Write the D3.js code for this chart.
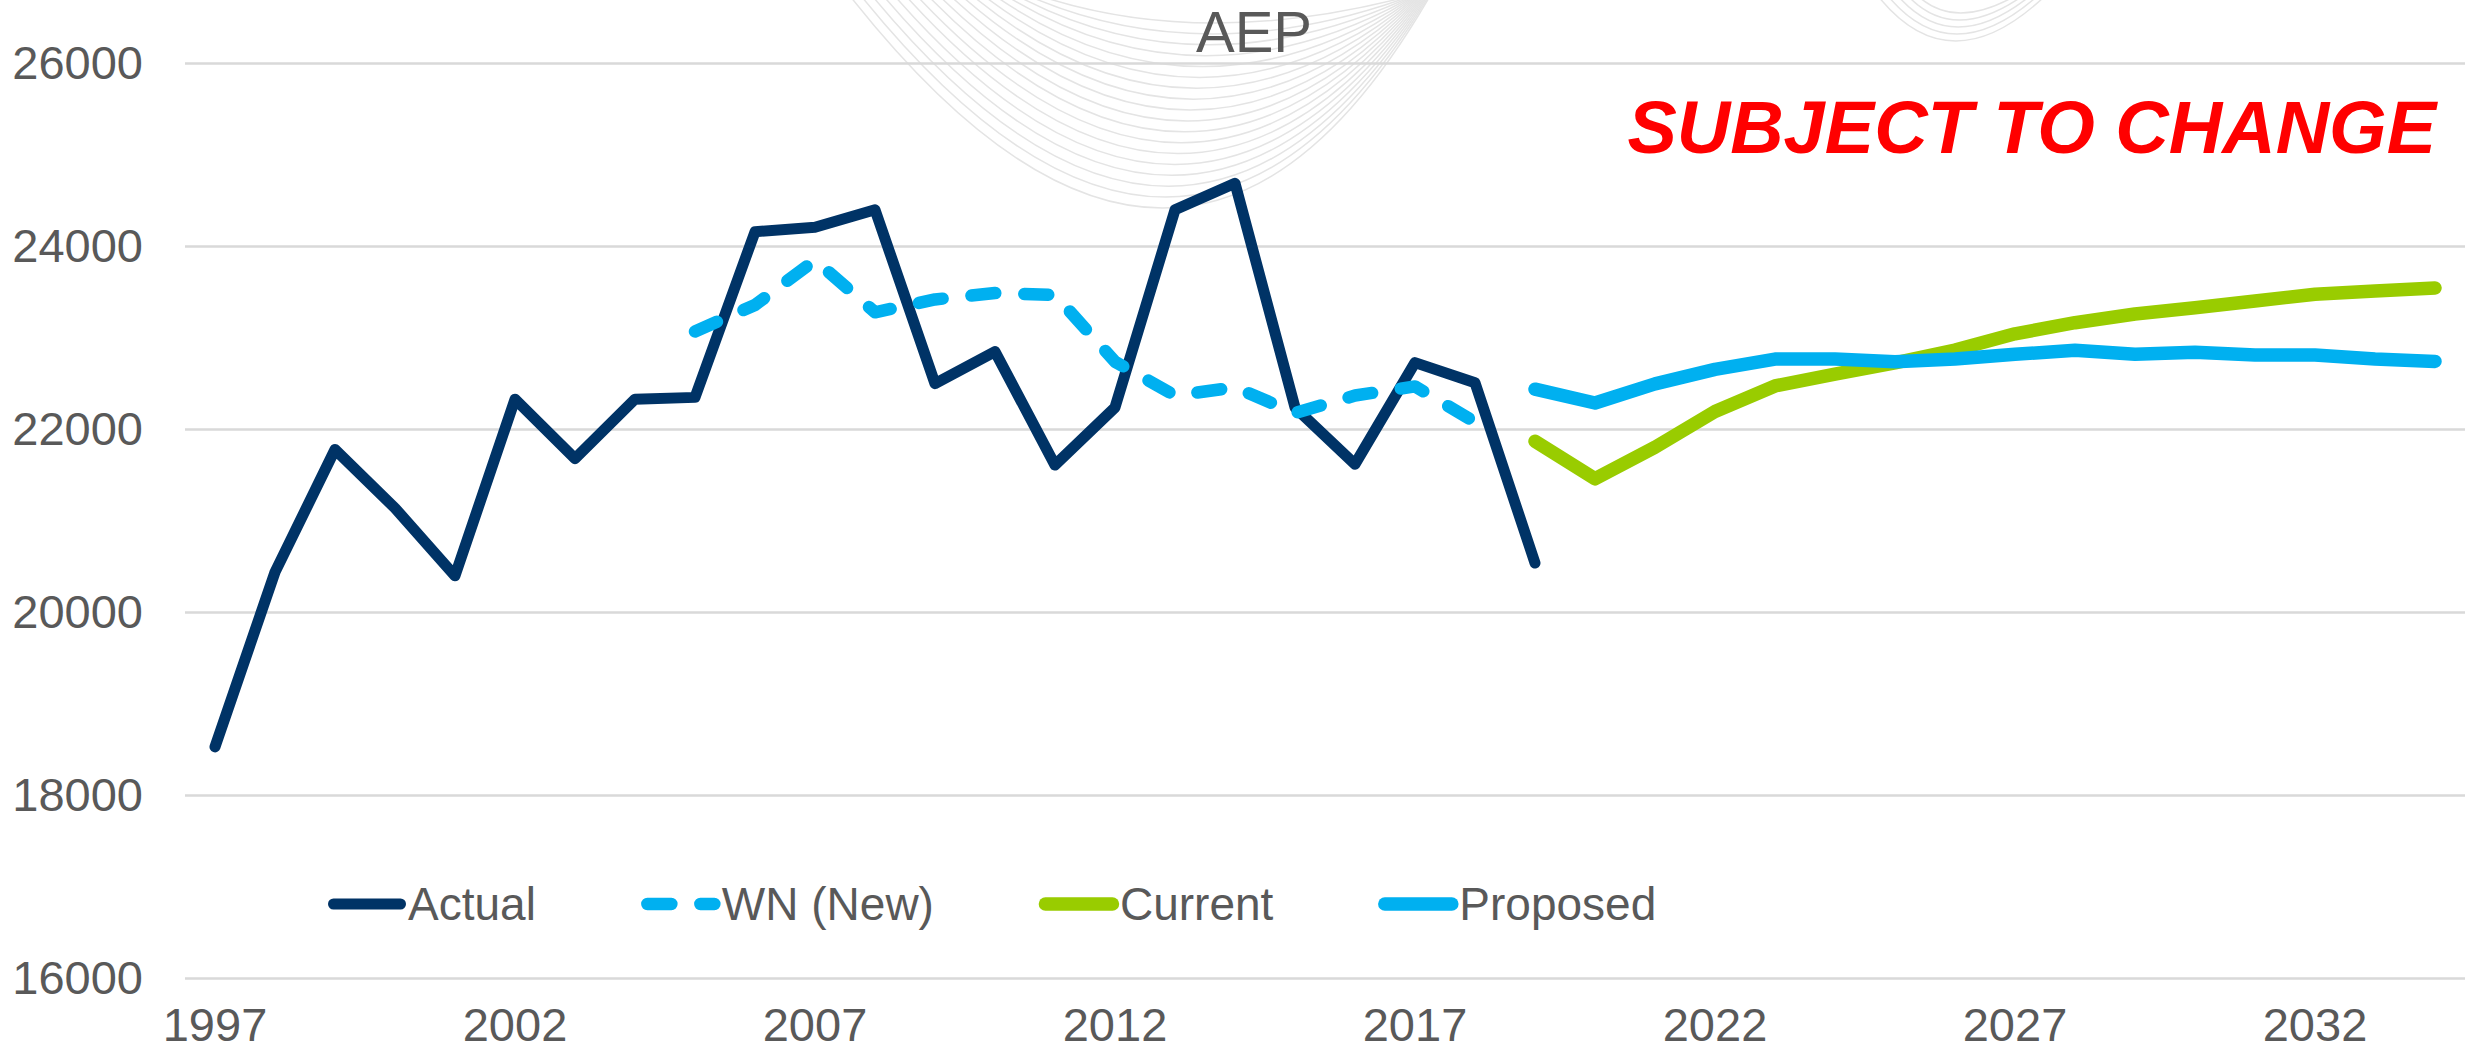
<!DOCTYPE html>
<html>
<head>
<meta charset="utf-8">
<script src="https://cdn.jsdelivr.net/npm/d3@7"></script>
<style>
  html, body { margin: 0; padding: 0; background: #fff; }
  svg text { font-family: "Liberation Sans", Arial, sans-serif; }
</style>
</head>
<body>
<div id="chart"></div>
<script>
// categories
var years = d3.range(1997, 2035);
var xTickLabels = [1997, 2002, 2007, 2012, 2017, 2022, 2027, 2032];
var yTicks = [16000, 18000, 20000, 22000, 24000, 26000];

// series values (null = no value that year)
var actual = [18530, 20440, 21780, 21140, 20400, 22330, 21680, 22330, 22350, 24160,
              24210, 24400, 22500, 22850, 21610, 22240, 24400, 24690, 22240, 21620,
              22730, 22510, 20540,
              null, null, null, null, null, null, null, null, null, null, null, null, null, null, null];
var wnNew = [null, null, null, null, null, null, null, null,
             23070, 23360, 23850, 23280, 23420, 23490, 23470, 22740, 22370, 22460, 22180, 22370,
             22470, 22080,
             null, null, null, null, null, null, null, null, null, null, null, null, null, null, null, null];
var current = [null, null, null, null, null, null, null, null, null, null, null, null,
               null, null, null, null, null, null, null, null, null, null,
               21870, 21460, 21805, 22195, 22475, 22605, 22726, 22868, 23045, 23166,
               23261, 23330, 23404, 23477, 23512, 23546];
var proposed = [null, null, null, null, null, null, null, null, null, null, null, null,
                null, null, null, null, null, null, null, null, null, null,
                22440, 22289, 22497, 22656, 22769, 22769, 22740, 22770, 22821, 22864,
                22821, 22842, 22812, 22812, 22769, 22743];

var seriesNames = ["Actual", "WN (New)", "Current", "Proposed"];

var width = 2484, height = 1052;
var margin = {top: 63.4, right: 19, bottom: 73.6, left: 185};

var svg = d3.select("#chart").append("svg")
    .attr("width", width)
    .attr("height", height)
    .style("display", "block");

svg.append("rect").attr("width", width).attr("height", height).attr("fill", "#fff");

// faint background artwork (slide decoration)
var deco = svg.append("g").attr("fill", "none").attr("stroke", "#e4e4e4").attr("stroke-width", 1.5);
d3.range(18).forEach(function(k) {
    var t = k / 17;
    var xl = 850 + t * 190, xr = 1430 - t * 20, yv = 210 - t * 185;
    var xc = 1185 + t * 20;
    deco.append("path").attr("d", "M" + xl + ",-4Q" + xc + "," + (2 * yv) + " " + xr + ",-4");
});
d3.range(5).forEach(function(k) {
    var t = k / 4;
    var xl = 1878 + t * 40, xr = 2045 - t * 30, yv = 43 - t * 28;
    deco.append("path").attr("d", "M" + xl + ",-4Q" + (1950 + t * 5) + "," + (2 * yv) + " " + xr + ",-4");
});

var x = d3.scaleBand()
    .domain(years)
    .range([margin.left, width - margin.right]);

var y = d3.scaleLinear()
    .domain([16000, 26000])
    .range([height - margin.bottom, margin.top]);

function cx(d, i) { return x(years[i]) + x.bandwidth() / 2; }

// gridlines
svg.append("g")
    .selectAll("line")
    .data(yTicks)
    .enter().append("line")
    .attr("x1", margin.left)
    .attr("x2", width - margin.right)
    .attr("y1", function(d) { return y(d); })
    .attr("y2", function(d) { return y(d); })
    .attr("stroke", "#d9d9d9")
    .attr("stroke-width", 2.5);

// axes
var yAxis = svg.append("g")
    .attr("transform", "translate(" + margin.left + ",0)")
    .call(d3.axisLeft(y).tickValues(yTicks).tickSize(0).tickPadding(42).tickFormat(d3.format("d")));
var xAxis = svg.append("g")
    .attr("transform", "translate(0," + y(16000) + ")")
    .call(d3.axisBottom(x).tickValues(xTickLabels).tickSize(0).tickPadding(29));

[yAxis, xAxis].forEach(function(ax) {
    ax.select(".domain").remove();
    ax.selectAll("text")
        .attr("fill", "#595959")
        .style("font-size", "47px")
        .style("font-family", "'Liberation Sans', Arial, sans-serif");
});

// lines
var line = d3.line()
    .defined(function(d) { return d != null; })
    .x(cx)
    .y(function(d) { return y(d); });

var series = [
    {name: seriesNames[0], values: actual,   color: "#003366", width: 11,   dash: null},
    {name: seriesNames[1], values: wnNew,    color: "#00B0F0", width: 12.5, dash: "24 29"},
    {name: seriesNames[2], values: current,  color: "#99CC00", width: 13.5, dash: null},
    {name: seriesNames[3], values: proposed, color: "#00B0F0", width: 13.5, dash: null}
];

svg.append("g")
    .selectAll("path")
    .data(series)
    .enter().append("path")
    .attr("d", function(s) { return line(s.values); })
    .attr("fill", "none")
    .attr("stroke", function(s) { return s.color; })
    .attr("stroke-width", function(s) { return s.width; })
    .attr("stroke-linecap", "round")
    .attr("stroke-linejoin", "round")
    .attr("stroke-dasharray", function(s) { return s.dash; });

// title
svg.append("text")
    .attr("x", 1254)
    .attr("y", 52)
    .attr("text-anchor", "middle")
    .attr("fill", "#595959")
    .style("font-size", "58px")
    .text("AEP");

svg.append("text")
    .attr("x", 2436)
    .attr("y", 153)
    .attr("text-anchor", "end")
    .attr("fill", "#FF0000")
    .style("font-size", "74px")
    .style("font-weight", "bold")
    .style("font-style", "italic")
    .text("SUBJECT TO CHANGE");

// legend
var legend = svg.append("g");
var lx = 328, ly = 904;
series.forEach(function(s) {
    var g = legend.append("g").attr("transform", "translate(" + lx + "," + ly + ")");
    g.append("line")
        .attr("x1", 5.5).attr("x2", 72.5)
        .attr("y1", 0).attr("y2", 0)
        .attr("stroke", s.color)
        .attr("stroke-width", s.width)
        .attr("stroke-linecap", "round")
        .attr("stroke-dasharray", s.dash);
    var t = g.append("text")
        .attr("x", 80)
        .attr("y", 0)
        .attr("dy", "0.35em")
        .attr("fill", "#595959")
        .style("font-size", "46px")
        .text(s.name);
    lx += 80 + t.node().getComputedTextLength() + 106;
});
</script>
</body>
</html>
